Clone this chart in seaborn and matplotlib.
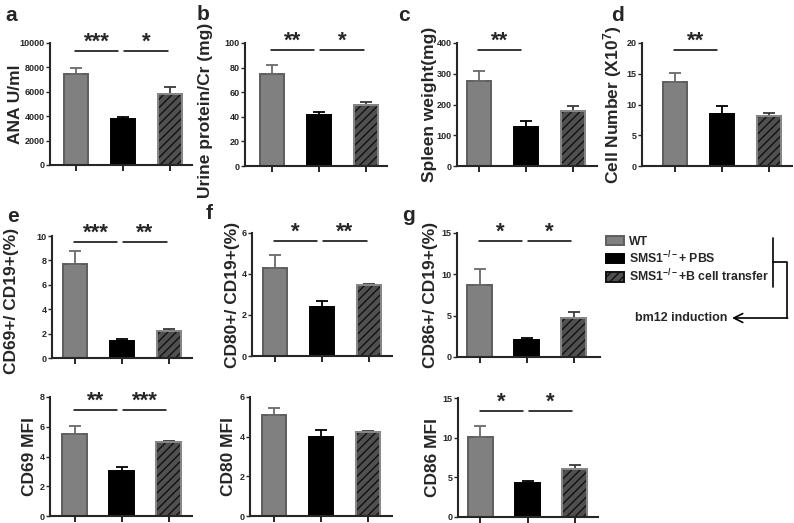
import matplotlib
matplotlib.use("Agg")
import matplotlib.pyplot as plt
from matplotlib.patches import Rectangle
import seaborn as sns

# group keys / legend labels
group_keys = ["WT", "PBS", "Transfer"]
group_labels = ["WT", "SMS1$^{\\mathbf{-/-}}$+ PBS", "SMS1$^{\\mathbf{-/-}}$+B cell transfer"]

# row 1
ana_mean = [7450, 3750, 5800]
ana_sem = [500, 200, 550]
urine_mean = [75, 41.5, 50]
urine_sem = [7, 2.5, 2]
spleen_mean = [277, 127, 180]
spleen_sem = [33, 20, 14]
cells_mean = [13.7, 8.5, 8.2]
cells_sem = [1.4, 1.2, 0.35]

# row 2 (% of CD19+)
cd69_pct_mean = [7.7, 1.4, 2.25]
cd69_pct_sem = [1.1, 0.12, 0.15]
cd80_pct_mean = [4.3, 2.4, 3.45]
cd80_pct_sem = [0.65, 0.27, 0.04]
cd86_pct_mean = [8.7, 2.05, 4.75]
cd86_pct_sem = [2.0, 0.3, 0.75]

# row 3 (MFI)
cd69_mfi_mean = [5.5, 3.0, 5.0]
cd69_mfi_sem = [0.55, 0.3, 0.03]
cd80_mfi_mean = [5.1, 3.97, 4.25]
cd80_mfi_sem = [0.37, 0.38, 0.05]
cd86_mfi_mean = [10.1, 4.3, 6.1]
cd86_mfi_sem = [1.4, 0.3, 0.4]

# significance brackets: (bar i, bar j, stars)
ana_sig = [(0, 1, "***"), (1, 2, "*")]
urine_sig = [(0, 1, "**"), (1, 2, "*")]
spleen_sig = [(0, 1, "**")]
cells_sig = [(0, 1, "**")]
cd69_pct_sig = [(0, 1, "***"), (1, 2, "**")]
cd80_pct_sig = [(0, 1, "*"), (1, 2, "**")]
cd86_pct_sig = [(0, 1, "*"), (1, 2, "*")]
cd69_mfi_sig = [(0, 1, "**"), (1, 2, "***")]
cd80_mfi_sig = []
cd86_mfi_sig = [(0, 1, "*"), (1, 2, "*")]

W, H = 794, 523
SPACING = 47.0  # px between bar centres

face = {"WT": "#808080", "PBS": "#000000", "Transfer": "#505050"}
edges = ["#5e5e5e", "#000000", "#111111"]
err_colors = ["#6a6a6a", "#000000", "#3a3a3a"]

panels = [
    dict(letter="a", ylabel="ANA U/ml", mean=ana_mean, sem=ana_sem, sig=ana_sig, sig_y=9300,
         ymax=10000, step=2000, box=(50, 42.7, 192, 165), c0=76, lab_x=23, let=(5, 21)),
    dict(letter="b", ylabel="Urine protein/Cr (mg)", mean=urine_mean, sem=urine_sem, sig=urine_sig, sig_y=94,
         ymax=100, step=20, box=(245, 43, 387, 166), c0=272, lab_x=213, lab_y=0.45, let=(197, 20)),
    dict(letter="c", ylabel="Spleen weight(mg)", mean=spleen_mean, sem=spleen_sem, sig=spleen_sig, sig_y=377,
         ymax=400, step=100, box=(457, 43, 597, 166), c0=479, lab_x=437, let=(398, 21)),
    dict(letter="d", ylabel="Cell Number (X10$^{\\mathbf{7}}$)", mean=cells_mean, sem=cells_sem, sig=cells_sig,
         sig_y=18.9, ymax=20, step=5, box=(642, 43, 792, 166), c0=675, lab_x=624, let=(611, 21)),
    dict(letter="e", ylabel="CD69+/ CD19+(%)", mean=cd69_pct_mean, sem=cd69_pct_sem, sig=cd69_pct_sig,
         sig_y=9.5, ymax=10, step=2, box=(52, 236, 192, 358), c0=75, lab_x=19, lab_y=0.465, let=(7, 222)),
    dict(letter="f", ylabel="CD80+/ CD19+(%)", mean=cd80_pct_mean, sem=cd80_pct_sem, sig=cd80_pct_sig,
         sig_y=5.62, ymax=6, step=2, box=(252, 233, 392, 356), c0=275, lab_x=240, let=(206, 219)),
    dict(letter="g", ylabel="CD86+/ CD19+(%)", mean=cd86_pct_mean, sem=cd86_pct_sem, sig=cd86_pct_sig,
         sig_y=14.0, ymax=15, step=5, box=(457, 233, 600, 357), c0=479.5, lab_x=438, let=(402, 221)),
    dict(letter="", ylabel="CD69 MFI", mean=cd69_mfi_mean, sem=cd69_mfi_sem, sig=cd69_mfi_sig,
         sig_y=7.13, ymax=8, step=2, box=(50, 397, 192, 516), c0=74.5, lab_x=37, let=None),
    dict(letter="", ylabel="CD80 MFI", mean=cd80_mfi_mean, sem=cd80_mfi_sem, sig=cd80_mfi_sig,
         sig_y=0, ymax=6, step=2, box=(250, 397, 392, 516), c0=274, lab_x=236, let=None),
    dict(letter="", ylabel="CD86 MFI", mean=cd86_mfi_mean, sem=cd86_mfi_sem, sig=cd86_mfi_sig,
         sig_y=13.3, ymax=15, step=5, box=(458, 398, 598, 517), c0=480.5, lab_x=440, let=None),
]

sns.set_theme(style="ticks")
plt.rcParams["font.family"] = ["Liberation Sans", "DejaVu Sans"]
plt.rcParams["font.weight"] = "bold"
plt.rcParams["axes.labelweight"] = "bold"
plt.rcParams["mathtext.fontset"] = "custom"
plt.rcParams["mathtext.rm"] = "Liberation Sans:bold"
plt.rcParams["mathtext.bf"] = "Liberation Sans:bold"
plt.rcParams["mathtext.it"] = "Liberation Sans:bold:italic"
plt.rcParams["hatch.linewidth"] = 1.0


def px_box(left, top, right, bottom):
    return [left / W, 1 - bottom / H, (right - left) / W, (bottom - top) / H]


def draw_panel(ax, p):
    left, top, right, bottom = p["box"]
    sns.barplot(x=group_keys, y=p["mean"], hue=group_keys, palette=face, legend=False,
                width=0.52, errorbar=None, linewidth=1.4, ax=ax)
    for k, patch in enumerate(ax.patches):
        patch.set_edgecolor(edges[k])
        if group_keys[k] == "Transfer":
            patch.set_hatch("////")
            ax.add_patch(Rectangle((patch.get_x(), patch.get_y()), patch.get_width(), patch.get_height(),
                                   fill=False, edgecolor="#8a8a8a", linewidth=1.4, zorder=patch.get_zorder() + 0.1))
    for k in range(3):
        ax.errorbar(k, p["mean"][k], yerr=[[0], [p["sem"][k]]], fmt="none", ecolor=err_colors[k],
                    elinewidth=1.3, capsize=4.3, capthick=1.3, zorder=1)

    ax.set_xlim(-(p["c0"] - left) / SPACING, (right - p["c0"]) / SPACING)
    ax.set_ylim(0, p["ymax"])
    ax.set_yticks(range(0, p["ymax"] + 1, p["step"]))
    ax.set_xticks([0, 1, 2])
    ax.set_xticklabels([])
    ax.set_xlabel("")
    ax.tick_params(axis="y", labelsize=6.5, length=3, width=1, pad=1)
    ax.tick_params(axis="x", length=4.5, width=1.4)
    sns.despine(ax=ax)
    for side in ("left", "bottom"):
        ax.spines[side].set_linewidth(1.5)
    ax.set_ylabel(p["ylabel"], fontsize=12.5)
    ax.yaxis.set_label_coords((p["lab_x"] - left) / (right - left), p.get("lab_y", 0.5))

    for i, j, stars in p["sig"]:
        if i == 0:
            x0, x1 = i - 0.02, j - 0.1
        else:
            x0, x1 = i + 0.03, j - 0.05
        ax.plot([x0, x1], [p["sig_y"], p["sig_y"]], color="black", lw=1.1, clip_on=False)
        ax.annotate(stars, xy=((x0 + x1) / 2, p["sig_y"]), xytext=(0, 2.5), textcoords="offset points",
                    ha="center", va="baseline", fontsize=16, fontweight="bold", annotation_clip=False)


fig = plt.figure(figsize=(W / 100, H / 100), dpi=100)
ov = fig.add_axes([0, 0, 1, 1])
ov.set_xlim(0, W)
ov.set_ylim(H, 0)
ov.axis("off")

axes = []
for p in panels:
    ax = fig.add_axes(px_box(*p["box"]))
    draw_panel(ax, p)
    axes.append(ax)
    if p["let"] is not None:
        ov.text(p["let"][0], p["let"][1], p["letter"], fontsize=15, fontweight="bold",
                ha="left", va="baseline")

# legend built from the bars of panel a
leg = ov.legend(handles=axes[0].patches[:3], labels=group_labels, loc="upper left",
                bbox_to_anchor=(606, 236), bbox_transform=ov.transData, frameon=False,
                fontsize=8.8, handlelength=1.47, handleheight=0.8, handletextpad=0.4,
                labelspacing=0.12, borderpad=0, borderaxespad=0)
for t in leg.get_texts():
    t.set_fontweight("bold")

# bracket and arrow
ov.plot([773, 773], [238, 287], color="black", lw=1.2)
ov.plot([773, 787, 787], [262, 262, 318], color="black", lw=1.2)
ov.annotate("", xy=(732, 318), xytext=(787.6, 318),
            arrowprops=dict(arrowstyle="->", color="black", lw=1.2, shrinkA=0, shrinkB=0, mutation_scale=16))
ov.text(727, 318, "bm12 induction", fontsize=9, fontweight="bold", ha="right", va="center")

fig.savefig("out.png", dpi=100)
